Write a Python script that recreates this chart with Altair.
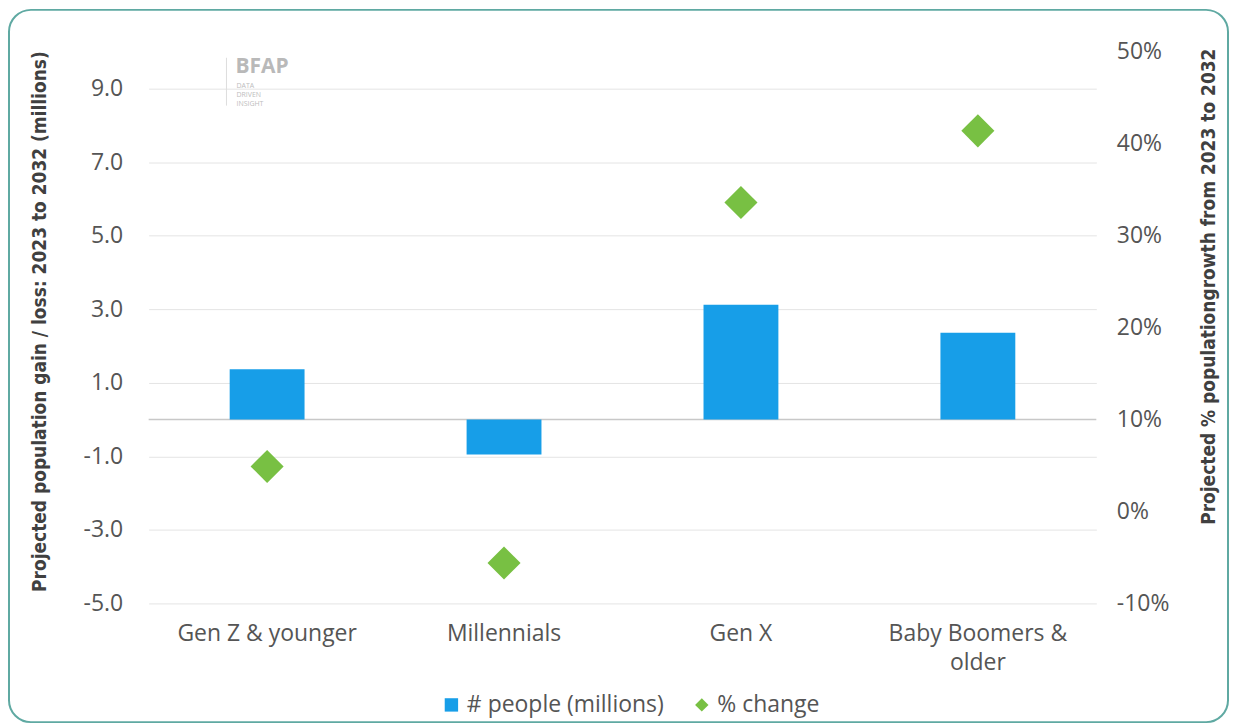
import altair as alt
import pandas as pd

categories = ["Gen Z & younger", "Millennials", "Gen X", "Baby Boomers & older"]
people_millions = [1.37, -0.95, 3.12, 2.36]
pct_change = [0.049, -0.056, 0.336, 0.414]
series_names = ["# people (millions)", "% change"]
left_ticks = [-5, -3, -1, 1, 3, 5, 7, 9]
right_ticks = [-0.1, 0.0, 0.1, 0.2, 0.3, 0.4, 0.5]

BLUE = "#179EE8"
GREEN = "#78C043"
TXT = "#555555"
FONT = "Open Sans"
TFONT = "DejaVu Sans Condensed, Roboto Condensed, Liberation Sans Narrow, Roboto"
FS = 23

bars_df = pd.DataFrame({"category": categories, "value": people_millions, "series": series_names[0]})
pts_df = pd.DataFrame({"category": categories, "value": pct_change, "series": series_names[1]})

x_enc = alt.X(
    "category:N",
    sort=categories,
    scale=alt.Scale(paddingInner=0.684, paddingOuter=0.342),
    axis=alt.Axis(
        title=None, labelAngle=0, domain=False, ticks=False, grid=False, labelPadding=19,
        labelFont=FONT, labelFontSize=FS, labelColor=TXT, labelLineHeight=29, labelLimit=0,
        labelExpr="datum.label == 'Baby Boomers & older' ? ['Baby Boomers &', 'older'] : datum.label",
    ),
)

legend_kw = dict(
    title=None, orient="none", legendX=292, legendY=643, direction="horizontal",
    labelFont=FONT, labelFontSize=FS, labelColor=TXT, labelLimit=0,
    symbolSize=180, columnPadding=26, symbolStrokeWidth=0,
)
color_enc = alt.Color("series:N", scale=alt.Scale(domain=series_names, range=[BLUE, GREEN]),
                      legend=alt.Legend(**legend_kw))
shape_enc = alt.Shape("series:N", scale=alt.Scale(domain=series_names, range=["square", "diamond"]),
                      legend=alt.Legend(**legend_kw))

left_scale = alt.Scale(domain=[-5, 10], nice=False, zero=False)
left_axis = alt.Axis(
    title="Projected population gain / loss: 2023 to 2032 (millions)",
    values=left_ticks, labelExpr="replace(format(datum.value, '.1f'), '\u2212', '-')",
    domain=False, ticks=False, labelPadding=26, grid=True, gridColor="#e4e4e4",
    labelFont=FONT, labelFontSize=FS, labelColor=TXT,
    titleFont=TFONT, titleFontSize=19, titleFontWeight="bold", titleColor="#404040",
    titlePadding=34, titleY=270,
)

bars = alt.Chart(bars_df).mark_bar().encode(
    x=x_enc,
    y=alt.Y("value:Q", scale=left_scale, axis=left_axis),
    color=color_enc,
)

zero_rule = alt.Chart(pd.DataFrame({"value": [0]})).mark_rule(color="#c8c8c8", strokeWidth=1.5).encode(
    y=alt.Y("value:Q", scale=left_scale, axis=left_axis)
)

frame = alt.Chart(pd.DataFrame({"k": [0]})).mark_rect(
    fillOpacity=0, stroke="#5fa9a2", strokeWidth=2, cornerRadius=22
).encode(x=alt.value(-140), x2=alt.value(1082), y=alt.value(-42), y2=alt.value(672))

logo_main = alt.Chart(pd.DataFrame({"k": [0]})).mark_text(
    text="BFAP", font=FONT, fontSize=21, fontWeight="bold", color="#b9b9b9", align="left", baseline="middle"
).encode(x=alt.value(87), y=alt.value(15))

logo_sub = alt.Chart(pd.DataFrame({"k": [0]})).mark_text(
    text=["DATA", "DRIVEN", "INSIGHT"], font=FONT, fontSize=7, color="#bdbdbd",
    align="left", baseline="top", lineHeight=9
).encode(x=alt.value(88), y=alt.value(30))

logo_sep = alt.Chart(pd.DataFrame({"k": [0]})).mark_rule(color="#dddddd", strokeWidth=1).encode(
    x=alt.value(78), y=alt.value(6), y2=alt.value(54)
)

left_layer = alt.layer(frame, zero_rule, bars, logo_sep, logo_main, logo_sub)

points = alt.Chart(pts_df).mark_point(filled=True, size=1100, opacity=1).encode(
    x=x_enc,
    y=alt.Y("value:Q", scale=alt.Scale(domain=[-0.1, 0.5], nice=False, zero=False), axis=alt.Axis(
        orient="right", title="Projected % populationgrowth from 2023 to 2032",
        values=right_ticks, labelExpr="replace(format(datum.value, '.0%'), '\u2212', '-')",
        domain=False, ticks=False, labelPadding=20, grid=False,
        labelFont=FONT, labelFontSize=FS, labelColor=TXT,
        titleFont=TFONT, titleFontSize=19, titleFontWeight="bold", titleColor="#404040",
        titlePadding=50, titleAngle=270, titleY=235,
    )),
    color=color_enc,
    shape=shape_enc,
)

chart = alt.layer(left_layer, points).resolve_scale(y="independent").properties(
    width=950, height=553, padding=0
).configure(font=FONT).configure_view(strokeWidth=0, stroke="transparent")

chart.save("out.html", embed_options={"renderer": "svg", "actions": False})
